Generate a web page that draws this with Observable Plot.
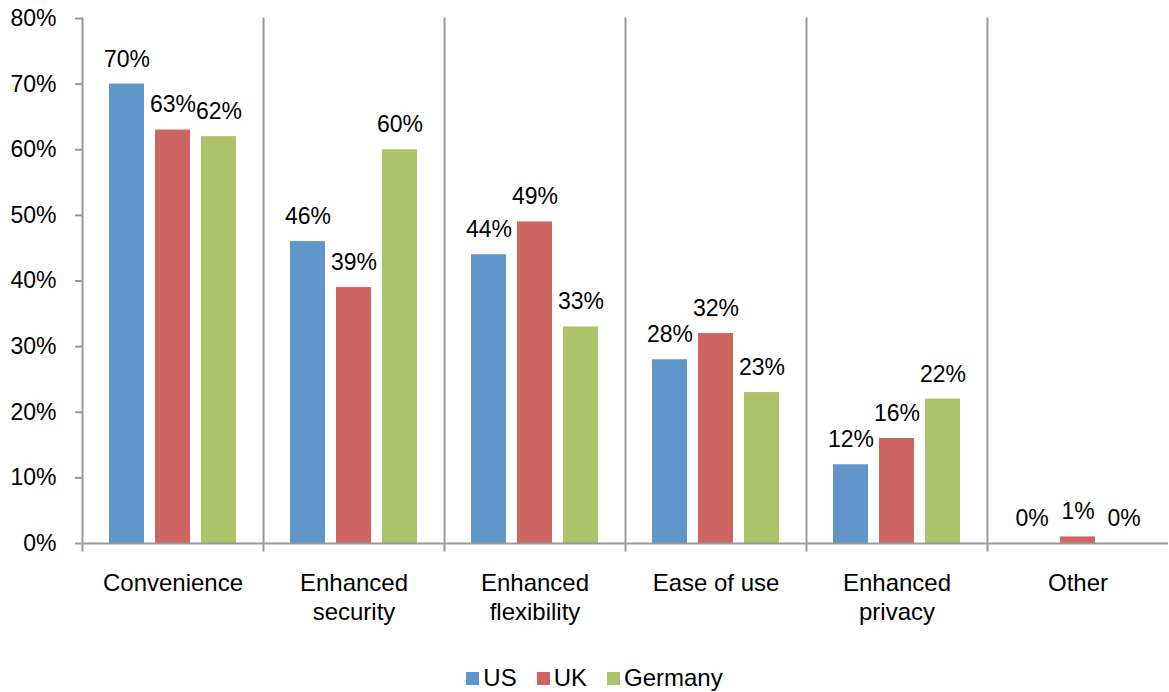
<!DOCTYPE html>
<html>
<head>
<meta charset="utf-8">
<script src="https://cdn.jsdelivr.net/npm/d3@7"></script>
<script src="https://cdn.jsdelivr.net/npm/@observablehq/plot@0.6"></script>
<style>
  html, body { margin: 0; padding: 0; background: #fff; }
  body { width: 1169px; height: 692px; overflow: hidden; font-family: "Liberation Sans", Arial, sans-serif; }
  #legend { margin-top: 3px; padding-left: 40px; }
  .lg-swatches { display: flex; justify-content: center; font-size: 24px; font-family: "Liberation Sans", Arial, sans-serif; color: #000; min-height: 26px; line-height: 26px; }
  .lg-swatch { margin-right: 20px !important; }
  .lg-swatch svg { margin-right: 4px !important; }
</style>
</head>
<body>
<div id="chart"></div>
<div id="legend"></div>
<script>
const categories = ["Convenience", "Enhanced\nsecurity", "Enhanced\nflexibility", "Ease of use", "Enhanced\nprivacy", "Other"];
const series = ["US", "UK", "Germany"];
const us = [70, 46, 44, 28, 12, 0];
const uk = [63, 39, 49, 32, 16, 1];
const germany = [62, 60, 33, 23, 22, 0];
const yTicks = [0, 10, 20, 30, 40, 50, 60, 70, 80];
const colors = ["#6096CA", "#CD6560", "#ABC46A"];

const valuesBySeries = [us, uk, germany];
const data = [];
categories.forEach((c, i) => {
  series.forEach((s, j) => {
    data.push({category: c, series: s, value: valuesBySeries[j][i]});
  });
});

const chart = Plot.plot({
  width: 1169,
  height: 662,
  marginLeft: 80,
  marginRight: 0,
  marginTop: 18,
  marginBottom: 119,
  style: {fontFamily: '"Liberation Sans", Arial, sans-serif', fontSize: "23px", color: "#000", background: "#fff"},
  fx: {domain: categories, padding: 0},
  x: {domain: series, paddingInner: 0.23, paddingOuter: 0.57, axis: null},
  y: {domain: [0, 80]},
  color: {domain: series, range: colors},
  marks: [
    Plot.frame({anchor: "left", stroke: "#999", strokeWidth: 2, insetBottom: -7}),
    Plot.barY(data, {fx: "category", x: "series", y: "value", fill: "series"}),
    Plot.ruleY([0], {stroke: "#999", strokeWidth: 2}),
    Plot.text(data, {fx: "category", x: "series", y: "value", text: d => d.value + "%", dy: -25, fontSize: 23, fill: "#000"}),
    Plot.axisY({ticks: yTicks, tickFormat: d => d + "%", tickSize: 7, tickPadding: 19, stroke: "#999", strokeWidth: 2, fontSize: 23, label: null}),
    Plot.axisFx({anchor: "bottom", tickSize: 0, tickPadding: 27, lineHeight: 1.2, fontSize: 24, label: null})
  ]
});
document.getElementById("chart").appendChild(chart);

const legend = Plot.legend({
  color: {domain: series, range: colors},
  swatchSize: 13,
  className: "lg"
});
document.getElementById("legend").appendChild(legend);
</script>
</body>
</html>
